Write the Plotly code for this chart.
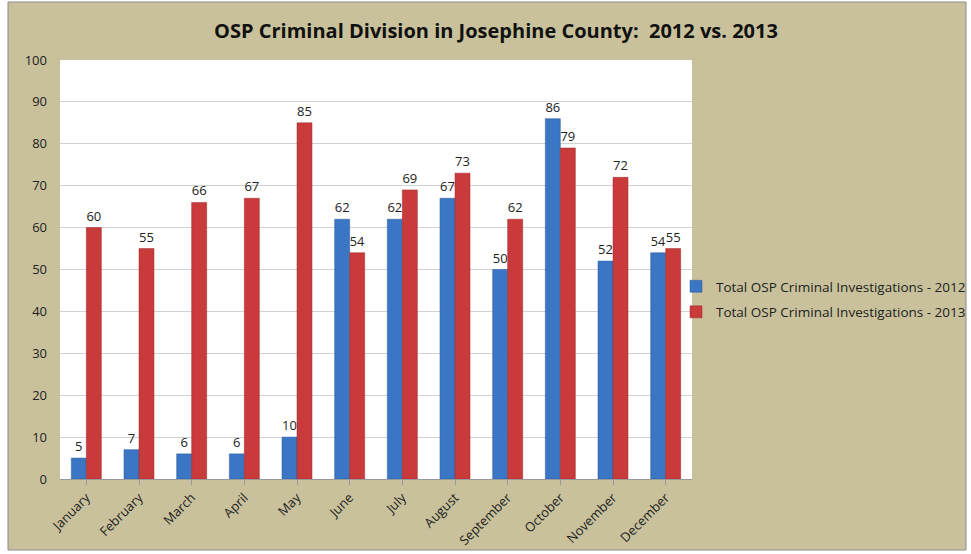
import plotly.graph_objects as go

months = ["January", "February", "March", "April", "May", "June", "July",
          "August", "September", "October", "November", "December"]
inv_2012 = [5, 7, 6, 6, 10, 62, 62, 67, 50, 86, 52, 54]
inv_2013 = [60, 55, 66, 67, 85, 54, 69, 73, 62, 79, 72, 55]
name_2012 = "Total OSP Criminal Investigations - 2012"
name_2013 = "Total OSP Criminal Investigations - 2013"

W, H = 971, 554
L, R, T, B = 60, 692, 60, 479

def px_x(p):
    return (p - L) / (R - L)

def px_y(p):
    return (B - p) / (B - T)

fig = go.Figure()
fig.add_trace(go.Bar(x=months, y=inv_2012, name=name_2012, legendgroup="a",
                     marker=dict(color="#3a76c4", line=dict(color="#2a5c9e", width=0.5)),
                     text=inv_2012, textposition="outside", cliponaxis=False,
                     textfont=dict(size=13, color="#222222")))
fig.add_trace(go.Bar(x=months, y=inv_2013, name=name_2013, legendgroup="b",
                     marker=dict(color="#c93a3a", line=dict(color="#a02828", width=0.5)),
                     text=inv_2013, textposition="outside", cliponaxis=False,
                     textfont=dict(size=13, color="#222222")))

fig.update_layout(
    width=W, height=H,
    margin=dict(l=L, r=W - R, t=T, b=H - B, autoexpand=False),
    paper_bgcolor="white",
    plot_bgcolor="white",
    barmode="group", bargap=0.43, bargroupgap=0,
    font=dict(family="Open Sans, Liberation Sans, sans-serif", color="#222222"),
    title=dict(text="<b>OSP Criminal Division in Josephine County:  2012 vs. 2013</b>",
               x=496 / W, xref="container", xanchor="center", y=1 - 31 / H, yanchor="middle",
               font=dict(size=20, color="#111111")),
    legend=dict(x=px_x(676), y=px_y(271), xanchor="left", yanchor="top",
                bgcolor="rgba(0,0,0,0)", font=dict(size=13.5, color="#222222"),
                itemwidth=30, tracegroupgap=5),
    xaxis=dict(tickangle=-45, tickfont=dict(size=13), showline=True,
               linecolor="#999999", ticks="outside", ticklen=5, tickcolor="#999999",
               showgrid=False),
    yaxis=dict(range=[0, 100], dtick=10, tickfont=dict(size=13), showgrid=True,
               gridcolor="#d2d2d2", zeroline=False, showline=False, ticks="",
               ticklabelstandoff=12),
    shapes=[dict(type="rect", xref="paper", yref="paper", layer="below",
                 x0=px_x(8), x1=px_x(966), y0=px_y(550), y1=px_y(2),
                 fillcolor="#c9c19b", line=dict(color="#8a8a8a", width=1)),
            dict(type="rect", xref="paper", yref="paper", layer="below",
                 x0=0, x1=1, y0=0, y1=1, fillcolor="white", line=dict(width=0))],
)

fig.write_html("out.html", config={"displayModeBar": False},
               post_script="document.body.style.margin='0';")
